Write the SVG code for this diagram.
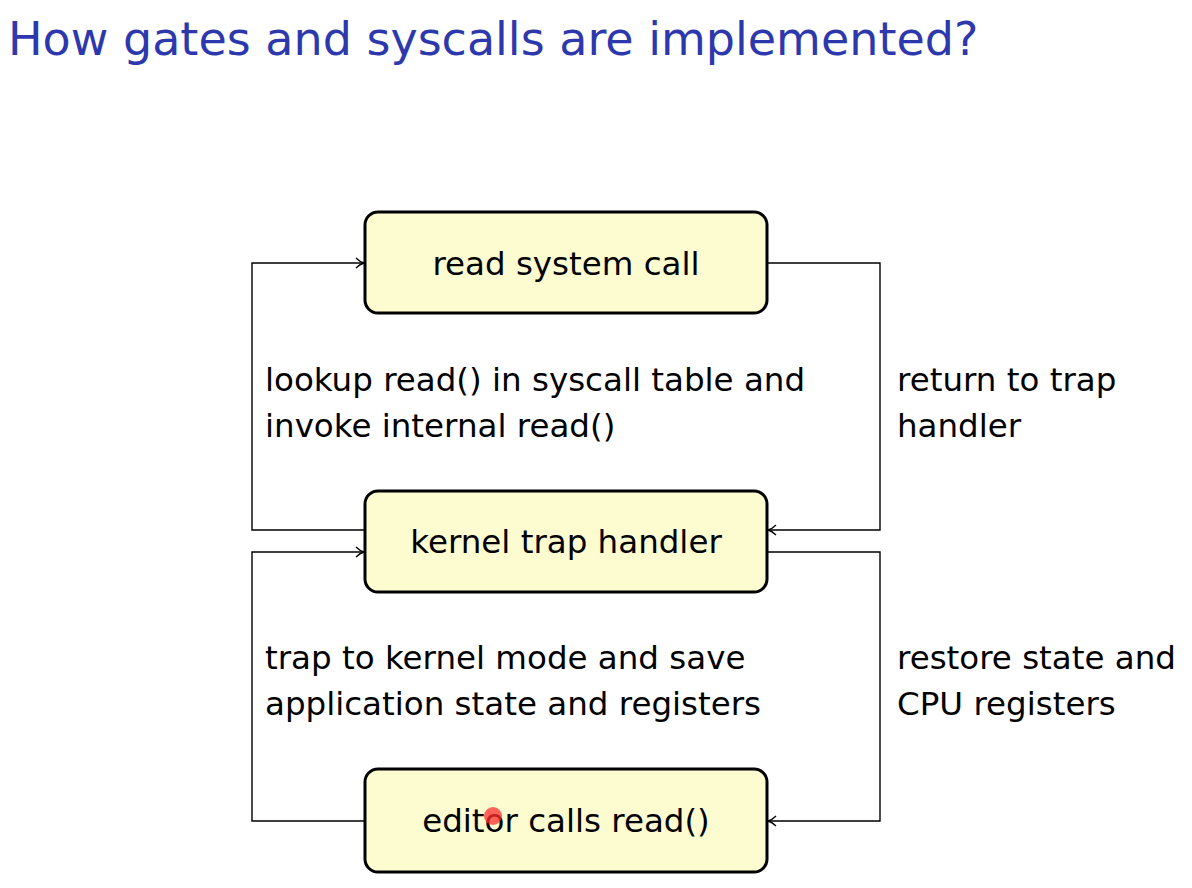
<svg xmlns="http://www.w3.org/2000/svg" width="1192" height="888" viewBox="0 0 1192 888">
<defs>
<style>
.t{font-family:"DejaVu Sans","Liberation Sans",sans-serif;font-size:32.5px;fill:#000}
.c{text-anchor:middle}
.box{fill:#fdfbd0;stroke:#000;stroke-width:3}
.ln{fill:none;stroke:#000;stroke-width:1.4}
</style>
<marker id="ah" markerWidth="12" markerHeight="12" refX="10" refY="6" orient="auto" markerUnits="userSpaceOnUse">
<path d="M2,1 Q6,5 10,6 Q6,7 2,11" fill="none" stroke="#000" stroke-width="1.3"/>
</marker>
</defs>
<rect width="1192" height="888" fill="#fff"/>
<text x="8" y="55" style="font-family:'DejaVu Sans','Liberation Sans',sans-serif;font-size:46px;fill:#2e38ad">How gates and syscalls are implemented?</text>
<g id="connectors">
<path class="ln" d="M365,530 H252 V263 H364" marker-end="url(#ah)"/>
<path class="ln" d="M767,263 H880 V530 H768" marker-end="url(#ah)"/>
<path class="ln" d="M365,821 H252 V552 H364" marker-end="url(#ah)"/>
<path class="ln" d="M767,552 H880 V821 H768" marker-end="url(#ah)"/>
</g>
<g id="n1"><rect class="box" x="365" y="212" width="402" height="101" rx="13"/><text class="t c" x="566" y="275">read system call</text></g>
<g id="n2"><rect class="box" x="365" y="491" width="402" height="101" rx="13"/><text class="t c" x="566" y="553">kernel trap handler</text></g>
<g id="n3"><rect class="box" x="365" y="769" width="402" height="103" rx="13"/><text class="t c" x="566" y="832">editor calls read()</text></g>
<g id="labels">
<text class="t" x="265" y="391">lookup read() in syscall table and</text>
<text class="t" x="265" y="437">invoke internal read()</text>
<text class="t" x="897" y="391">return to trap</text>
<text class="t" x="897" y="437">handler</text>
<text class="t" x="265" y="669">trap to kernel mode and save</text>
<text class="t" x="265" y="715">application state and registers</text>
<text class="t" x="897" y="669">restore state and</text>
<text class="t" x="897" y="715">CPU registers</text>
</g>
<circle cx="493" cy="816" r="9" fill="#ff3030" fill-opacity="0.75"/>
</svg>
